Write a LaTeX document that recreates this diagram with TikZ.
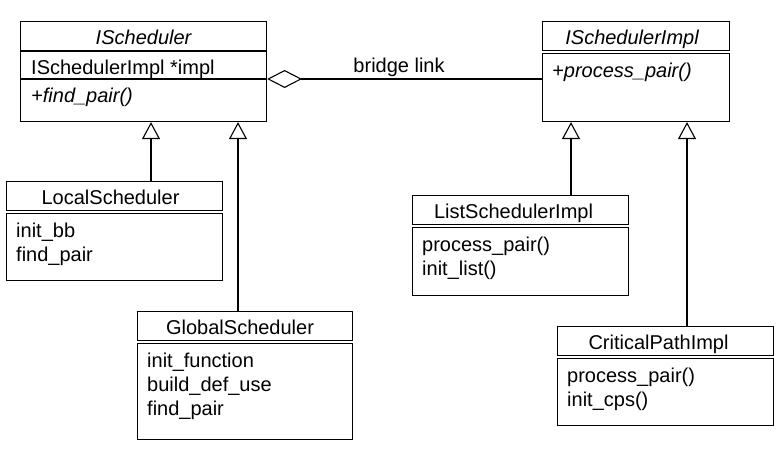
\documentclass[tikz,border=0pt]{standalone}
\usepackage{fontspec}
\setmainfont{Liberation Sans}
\usetikzlibrary{arrows.meta,positioning}

\begin{document}
\begin{tikzpicture}[x=1pt,y=1pt,font=\fontsize{20}{24}\selectfont,
	classbox/.style={draw,line width=1.1pt,rectangle,inner sep=0pt,anchor=north west},
	ctitle/.style={anchor=base,inner sep=0pt},
	citem/.style={anchor=base west,inner sep=0pt,align=left},
	sepline/.style={line width=1.1pt},
	dsepline/.style={line width=1pt,double,double distance=2.4pt},
	inherit/.style={-{Triangle[open,length=17pt,width=18pt]},line width=1.1pt},
	aggr/.style={{Diamond[open,length=35pt,width=18pt]}-,line width=1.1pt}]
	\useasboundingbox (0,0) rectangle (782,455);
	% class boxes
	\node[classbox,minimum width=246pt,minimum height=100pt] (sched) at (20,434) {};
	\node[classbox,minimum width=187pt,minimum height=100pt] (impl) at (542,434) {};
	\node[classbox,minimum width=216pt,minimum height=99pt] (local) at (6,274) {};
	\node[classbox,minimum width=215pt,minimum height=128pt] (global) at (137,144) {};
	\node[classbox,minimum width=216pt,minimum height=100pt] (list) at (412,260) {};
	\node[classbox,minimum width=216pt,minimum height=99pt] (crit) at (557,129) {};
	% titles
	\node[ctitle] (schedT) at ([yshift=-24pt]sched.north) {\itshape IScheduler};
	\node[ctitle] (implT) at ([shift={(-4pt,-24pt)}]impl.north) {\itshape ISchedulerImpl};
	\node[ctitle] (localT) at ([shift={(-4pt,-24pt)}]local.north) {LocalScheduler};
	\node[ctitle] (globalT) at ([shift={(-5pt,-24pt)}]global.north) {GlobalScheduler};
	\node[ctitle] (listT) at ([shift={(-7pt,-24pt)}]list.north) {ListSchedulerImpl};
	\node[ctitle] (critT) at ([shift={(-7pt,-24pt)}]crit.north) {CriticalPathImpl};
	% compartments
	\draw[sepline] ([yshift=-30pt]sched.north west) -- ([yshift=-30pt]sched.north east);
	\draw[sepline] ([yshift=-58pt]sched.north west) -- ([yshift=-58pt]sched.north east);
	\foreach \c in {impl,local,global,list,crit}
		\draw[dsepline] ([yshift=-31pt]\c.north west) -- ([yshift=-31pt]\c.north east);
	% members (base = last line)
	\node[citem] (schedA) at ([shift={(11pt,-54pt)}]sched.north west) {ISchedulerImpl *impl};
	\node[citem] (schedO) at ([shift={(11pt,-82pt)}]sched.north west) {\itshape +find\_pair()};
	\node[citem] (implO) at ([shift={(10pt,-57pt)}]impl.north west) {\itshape +process\_pair()};
	\node[citem] (localI) at ([shift={(10pt,-81pt)}]local.north west) {init\_bb\\find\_pair};
	\node[citem] (globalI) at ([shift={(10pt,-105pt)}]global.north west) {init\_function\\build\_def\_use\\find\_pair};
	\node[citem] (listI) at ([shift={(10pt,-81pt)}]list.north west) {process\_pair()\\init\_list()};
	\node[citem] (critI) at ([shift={(10pt,-81pt)}]crit.north west) {process\_pair()\\init\_cps()};
	% connectors
	\coordinate (schedL) at ([xshift=131pt]sched.south west);
	\coordinate (schedR) at ([xshift=218pt]sched.south west);
	\coordinate (implL) at ([xshift=29pt]impl.south west);
	\coordinate (implR) at ([xshift=145pt]impl.south west);
	\coordinate (bridge) at ([yshift=-58pt]sched.north east);
	\draw[inherit] (schedL |- local.north) -- (schedL);
	\draw[inherit] (schedR |- global.north) -- (schedR);
	\draw[inherit] (implL |- list.north) -- (implL);
	\draw[inherit] (implR |- crit.north) -- (implR);
	\draw[aggr] (bridge) -- node[above,pos=0.48,inner sep=2pt] {bridge link} (bridge -| impl.west);
\end{tikzpicture}
\end{document}
